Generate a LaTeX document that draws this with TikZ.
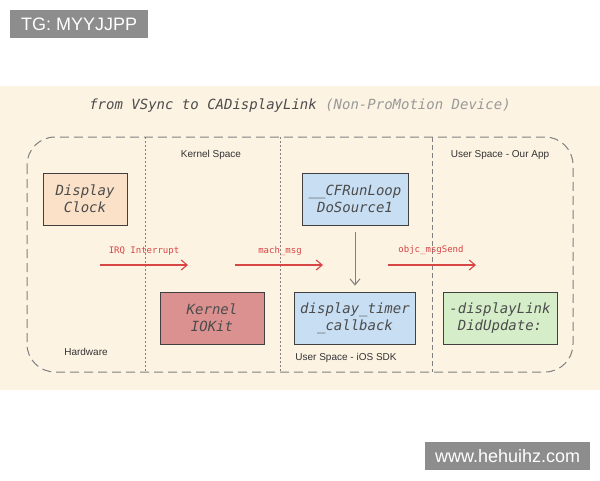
\documentclass[tikz,border=0pt]{standalone}
\usepackage{fontspec}
\setmainfont{Liberation Sans}
\newfontfamily\monof{DejaVu Sans Mono}
\usetikzlibrary{arrows.meta}
\definecolor{bg}{HTML}{FCF3E3}
\definecolor{fo}{HTML}{FAE1C8}
\definecolor{fk}{HTML}{DB9190}
\definecolor{fb}{HTML}{C8DEF3}
\definecolor{fg}{HTML}{D5EDC8}
\definecolor{rd}{HTML}{D84545}
\definecolor{gl}{HTML}{808080}
\begin{document}
\begin{tikzpicture}[x=1pt,y=-1pt,
 box/.style={draw=black!75,line width=0.8pt,minimum width=#1,minimum height=52pt,inner sep=1pt,align=center,font=\monof\itshape\fontsize{14}{17}\selectfont,text=black!70},
 lab/.style={font=\fontsize{10}{12}\selectfont,text=black!80},
 rl/.style={font=\monof\fontsize{9}{11}\selectfont,text=rd},
 ra/.style={draw=rd,line width=1.1pt,-{Straight Barb[length=6pt,width=10pt]}},
 sep/.style={draw=gl,line width=0.9pt,dash pattern=on 2pt off 2pt}]
\useasboundingbox (0,0) rectangle (600,480);
\fill[white] (0,0) rectangle (600,480);
\fill[bg] (0,86) rectangle (600,390);
\node[fill=gl!90,text=white,font=\fontsize{18}{20}\selectfont,minimum width=138pt,minimum height=28pt,anchor=north west] (tg) at (10,10) {TG: MYYJJPP};
\node[fill=gl!90,text=white,font=\fontsize{18}{20}\selectfont,minimum width=165pt,minimum height=28pt,anchor=north west] (wm) at (425,442) {www.hehuihz.com};
\node[font=\monof\itshape\fontsize{14}{16}\selectfont,text=black!70] (title) at (300,106) {from VSync to CADisplayLink \textcolor{black!40}{(Non-ProMotion Device)}};
\draw[gl,line width=1pt,dash pattern=on 9pt off 5pt,rounded corners=28pt] (27,137) rectangle (573,372);
\coordinate (s1t) at (145,137); \coordinate (s1b) at (145,372);
\coordinate (s2t) at (280,137); \coordinate (s2b) at (280,372);
\coordinate (s3t) at (432,137); \coordinate (s3b) at (432,372);
\draw[sep] (s1t) -- (s1b);
\draw[sep] (s2t) -- (s2b);
\draw[gl,line width=0.9pt,dash pattern=on 5pt off 3pt] (s3t) -- (s3b);
\node[lab] (ks) at (211,155) {Kernel Space};
\node[lab] (us) at (500,155) {User Space - Our App};
\node[lab] (hw) at (86,352) {Hardware};
\node[lab] (ui) at (346,358) {User Space - iOS SDK};
\node[box=84pt,fill=fo] (dc) at (85,199) {Display\\Clock};
\node[box=106pt,fill=fb] (cf) at (355,199) {\_\_CFRunLoop\\DoSource1};
\node[box=104pt,fill=fk] (ko) at (212,318) {Kernel\\IOKit};
\node[box=121pt,fill=fb] (dt) at (355,318) {display\_timer\\\_callback};
\node[box=114pt,fill=fg] (dl) at (500,318) {-displayLink\\DidUpdate:};
\draw[gl,line width=1pt,-{Straight Barb[length=6pt,width=10pt]}] ([yshift=-7pt]cf.south) -- ([yshift=6pt]dt.north);
\coordinate (a1) at (100,265); \coordinate (b1) at (188,265);
\coordinate (a2) at (235,265); \coordinate (b2) at (323,265);
\coordinate (a3) at (388,265); \coordinate (b3) at (476,265);
\draw[ra] (a1) -- (b1);
\draw[ra] (a2) -- (b2);
\draw[ra] (a3) -- (b3);
\node[rl] (l1) at (144,251) {IRQ Interrupt};
\node[rl] (l2) at (280,251) {mach\_msg};
\node[rl] (l3) at (431,250) {objc\_msgSend};
\end{tikzpicture}
\end{document}
